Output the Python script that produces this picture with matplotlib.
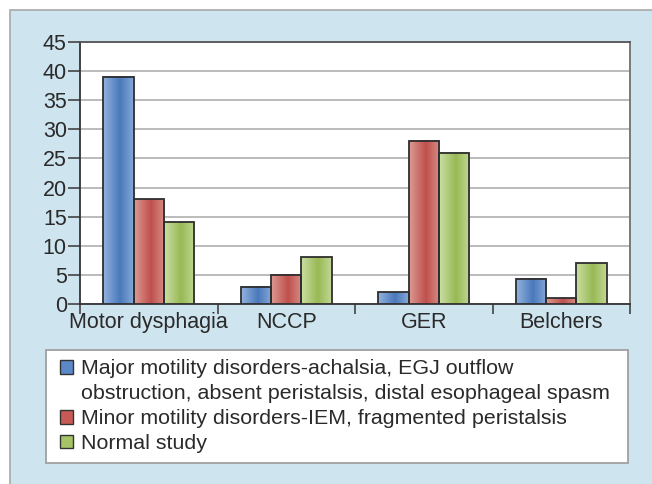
import numpy as np
import matplotlib
matplotlib.use("Agg")
import matplotlib.pyplot as plt
from matplotlib.patches import Rectangle, Patch
from matplotlib.colors import LinearSegmentedColormap

plt.rcParams['font.family'] = ['Liberation Sans', 'DejaVu Sans']

categories = ["Motor dysphagia", "NCCP", "GER", "Belchers"]
series_names = [
    "Major motility disorders-achalsia, EGJ outflow",
    "Minor motility disorders-IEM, fragmented peristalsis",
    "Normal study",
]
name_continuation = "obstruction, absent peristalsis, distal esophageal spasm"
major = [39, 3, 2, 4.3]
minor = [18, 5, 28, 1]
normal = [14, 8, 26, 7]
y_ticks = [0, 5, 10, 15, 20, 25, 30, 35, 40, 45]

series = [major, minor, normal]
dark_cols = ["#4a79bb", "#c0504d", "#98b955"]
light_cols = ["#93b3df", "#dc9a93", "#cadfa3"]
legend_cols = ["#5b88c8", "#c85a55", "#a4c466"]

W, H = 652, 484
fig = plt.figure(figsize=(W / 100, H / 100), dpi=100, facecolor="white")
# light-blue panel
fig.patches.append(Rectangle((10 / W, -0.01), 1.1, 1 - 10 / H + 0.01, transform=fig.transFigure,
                             facecolor="#cee4ef", edgecolor="#a8a8a8", linewidth=1.2, zorder=-10))
# legend frame
fig.patches.append(Rectangle((46 / W, 1 - 463 / H), 582 / W, 113 / H, transform=fig.transFigure,
                             facecolor="white", edgecolor="#a0a0a0", linewidth=1.3, zorder=-5))

ax = fig.add_axes([80 / W, 1 - 304 / H, 550 / W, 262 / H])
ax.set_facecolor("white")

x = np.arange(len(categories)) + 0.5
bw = 0.22
for i, (vals, dc, lc) in enumerate(zip(series, dark_cols, light_cols)):
    cmap = LinearSegmentedColormap.from_list("g", [dc, lc, dc])
    grad = np.linspace(0, 1, 64)
    grad = np.clip(1 - np.abs(grad - 0.55) / 0.55, 0, 1)
    grad = 0.5 - 0.5 * grad
    bars = ax.bar(x + (i - 1) * bw, vals, bw, facecolor="none", edgecolor="#2e2e2e",
                  linewidth=1.3, zorder=4)
    for b in bars:
        bx, by, bwid, bh = b.get_x(), b.get_y(), b.get_width(), b.get_height()
        ax.imshow(grad[np.newaxis, :], cmap=cmap, vmin=0, vmax=1, aspect="auto",
                  extent=[bx, bx + bwid, by, by + bh], zorder=3, interpolation="bilinear")

ax.set_xlim(0, 4)
ax.set_ylim(0, 45)
ax.set_yticks(y_ticks)
ax.set_yticklabels([str(t) for t in y_ticks], fontsize=15.5, color="#2a2a2a")
ax.yaxis.grid(True, color="#b5b5b5", linewidth=1.3, zorder=1)
ax.set_axisbelow(True)

ax.set_xticks([0, 1, 2, 3, 4])
ax.set_xticklabels([])
ax.set_xticks(x, minor=True)
ax.set_xticklabels(categories, minor=True, fontsize=15.5, color="#2a2a2a")
ax.tick_params(axis="x", which="major", length=7, width=1.2, color="#444444")
ax.tick_params(axis="x", which="minor", length=0, pad=6)
ax.tick_params(axis="y", length=8.5, width=1.2, color="#444444", pad=1)

for s in ["left", "bottom"]:
    ax.spines[s].set_color("#333333")
    ax.spines[s].set_linewidth(1.3)
ax.spines["top"].set_color("#555555")
ax.spines["top"].set_linewidth(1.3)
ax.spines["right"].set_color("#707070")
ax.spines["right"].set_linewidth(1.3)

handles = [Patch(facecolor=c, edgecolor="#333333", linewidth=1.0) for c in legend_cols]
blank = Patch(facecolor="none", edgecolor="none")
leg_handles = [handles[0], blank, handles[1], handles[2]]
leg_labels = [series_names[0], name_continuation, series_names[1], series_names[2]]
leg = fig.legend(leg_handles, leg_labels, loc="upper left",
                 bbox_to_anchor=(56 / W, 1 - 355 / H),
                 fontsize=15.4, frameon=False,
                 handlelength=0.6, handleheight=0.6, handletextpad=0.37,
                 labelspacing=0.28, borderpad=0.2, borderaxespad=0)
for t in leg.get_texts():
    t.set_color("#2a2a2a")

fig.savefig("out.png", dpi=100, facecolor=fig.get_facecolor())
